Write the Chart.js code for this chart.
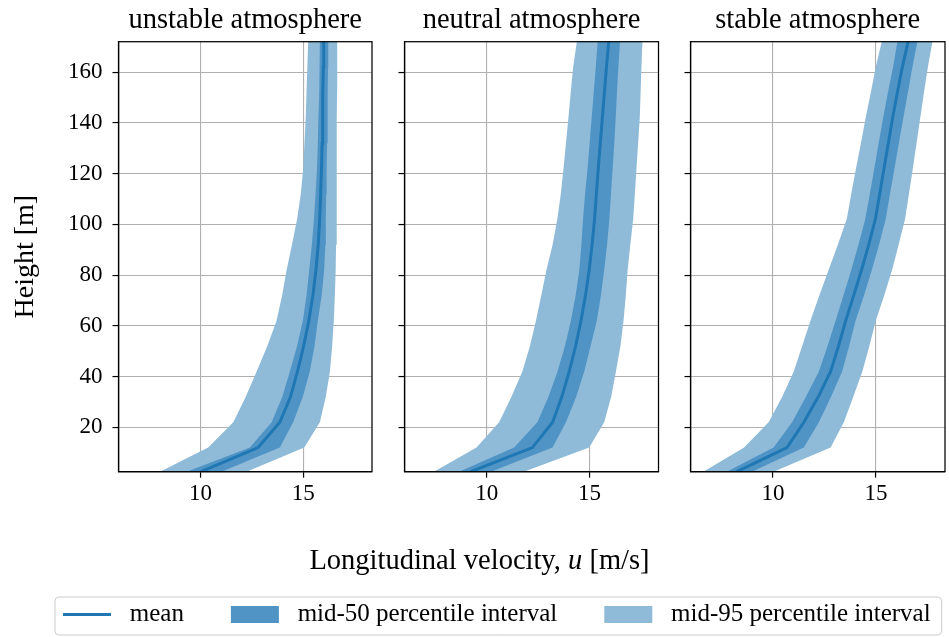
<!DOCTYPE html>
<html>
<head>
<meta charset="utf-8">
<script src="https://cdn.jsdelivr.net/npm/chart.js@4.4.1/dist/chart.umd.min.js"></script>
<style>
  body { margin: 0; background: #fff; }
  #wrap { position: relative; width: 949px; height: 637px; }
  #wrap canvas { position: absolute; left: 0; top: 0; }
</style>
</head>
<body>
<div id="wrap">
  <canvas id="c1" width="949" height="637"></canvas>
  <canvas id="c2" width="949" height="637"></canvas>
  <canvas id="c3" width="949" height="637"></canvas>
</div>
<script>
// Heights of the profile points (m)
const heights = [2.5, 12, 22, 32, 42, 52, 62, 72, 82, 92, 102, 112, 122, 132, 142, 152, 162, 172];
const titles = ["unstable atmosphere", "neutral atmosphere", "stable atmosphere"];
const xTicks = [10, 15];
const yTicks = [20, 40, 60, 80, 100, 120, 140, 160];

// unstable
const meanUnstable = [10.02, 12.8, 13.86, 14.38, 14.72, 15.02, 15.27, 15.47, 15.62, 15.73, 15.8, 15.85, 15.89, 15.92, 15.94, 15.96, 15.98, 16.0];
const p25Unstable = [9.32, 12.4, 13.46, 13.98, 14.35, 14.7, 14.98, 15.16, 15.29, 15.42, 15.52, 15.6, 15.67, 15.71, 15.74, 15.77, 15.79, 15.81];
const p75Unstable = [11.02, 13.86, 14.51, 14.98, 15.32, 15.55, 15.71, 15.9, 16.02, 16.08, 16.1, 16.12, 16.14, 16.16, 16.18, 16.2, 16.21, 16.22];
const p025Unstable = [8.02, 10.37, 11.59, 12.2, 12.73, 13.25, 13.7, 13.97, 14.19, 14.45, 14.7, 14.88, 15.0, 15.06, 15.12, 15.16, 15.2, 15.24];
const p975Unstable = [12.24, 15.05, 15.81, 16.1, 16.3, 16.41, 16.49, 16.54, 16.58, 16.6, 16.62, 16.63, 16.63, 16.64, 16.64, 16.65, 16.65, 16.66];

// neutral
const meanNeutral = [9.22, 12.22, 13.2, 13.65, 14.01, 14.32, 14.58, 14.8, 14.98, 15.12, 15.24, 15.33, 15.42, 15.52, 15.62, 15.72, 15.82, 15.93];
const p25Neutral = [8.65, 11.33, 12.46, 13.0, 13.44, 13.8, 14.09, 14.32, 14.5, 14.6, 14.68, 14.78, 14.9, 15.0, 15.1, 15.2, 15.3, 15.39];
const p75Neutral = [10.2, 13.2, 13.85, 14.35, 14.74, 15.05, 15.35, 15.55, 15.71, 15.85, 15.96, 16.04, 16.12, 16.2, 16.27, 16.33, 16.4, 16.48];
const p025Neutral = [7.43, 9.5, 10.6, 11.2, 11.73, 12.1, 12.39, 12.65, 12.9, 13.2, 13.43, 13.6, 13.73, 13.85, 13.97, 14.08, 14.2, 14.38];
const p975Neutral = [11.8, 14.98, 15.71, 16.05, 16.28, 16.5, 16.65, 16.76, 16.85, 16.98, 17.12, 17.2, 17.28, 17.36, 17.44, 17.48, 17.52, 17.57];

// stable
const meanStable = [8.25, 10.68, 11.5, 12.2, 12.8, 13.18, 13.53, 13.92, 14.3, 14.65, 14.97, 15.18, 15.39, 15.6, 15.81, 16.04, 16.28, 16.56];
const p25Stable = [7.76, 10.03, 10.93, 11.6, 12.23, 12.65, 13.04, 13.42, 13.8, 14.15, 14.48, 14.7, 14.92, 15.13, 15.35, 15.58, 15.83, 16.04];
const p75Stable = [8.98, 11.5, 12.23, 12.82, 13.36, 13.7, 14.01, 14.42, 14.8, 15.15, 15.47, 15.68, 15.9, 16.11, 16.33, 16.55, 16.77, 17.01];
const p025Stable = [6.62, 8.6, 9.79, 10.45, 11.01, 11.42, 11.82, 12.25, 12.7, 13.15, 13.58, 13.8, 14.03, 14.27, 14.5, 14.75, 14.99, 15.28];
const p975Stable = [10.03, 12.8, 13.44, 13.9, 14.34, 14.68, 14.99, 15.4, 15.78, 16.1, 16.41, 16.6, 16.79, 16.97, 17.15, 17.33, 17.52, 17.74];

const xMin = 6.0, xMax = 18.35, yMin = 2.5, yMax = 172;

const SERIF = "'Liberation Serif', 'Times New Roman', serif";
const BLUE = "#1f77b4";
const BAND50 = "rgb(80, 148, 198)";
const BAND95 = "rgb(143, 187, 217)";
const GRID = "#b0b0b0";

Chart.defaults.font.family = SERIF;
Chart.defaults.color = "#000";

// plot-area edges of the three panels
const panels = [
  { left: 118.5, right: 372 },
  { left: 404.5, right: 658.5 },
  { left: 690.5, right: 945 }
];
const plotTop = 41.7;
const plotBottom = 471.7;
const W = 949, H = 637;
// the middle chart carries the legend; its padding sets where the legend row sits
const legendPad = { left: 16, right: -40 };

function pts(values) {
  return values.map((v, i) => ({ x: v, y: heights[i] }));
}

// four-sided frame like matplotlib spines
const frame = {
  id: "frame",
  afterDraw(chart) {
    const { ctx, chartArea: a } = chart;
    ctx.save();
    ctx.strokeStyle = "#000";
    ctx.lineWidth = 1.25;
    ctx.strokeRect(a.left, a.top, a.right - a.left, a.bottom - a.top);
    ctx.restore();
  }
};

// shared x label and legend frame, drawn by the middle chart
const extras = {
  id: "extras",
  afterDraw(chart) {
    const ctx = chart.ctx;
    ctx.save();
    // legend frame
    const boxes = chart.legend.legendHitBoxes;
    if (boxes && boxes.length) {
      const first = boxes[0], last = boxes[boxes.length - 1];
      const l = first.left - 8, r = last.left + last.width + 11;
      const t = first.top - 5, b = first.top + first.height + 8;
      ctx.strokeStyle = "#cccccc";
      ctx.lineWidth = 1;
      ctx.beginPath();
      ctx.roundRect(l, t, r - l, Math.min(b, H - 1) - t, 4);
      ctx.stroke();
    }
    // x label with italic u
    const parts = [["Longitudinal velocity, ", "normal"], ["u", "italic"], [" [m/s]", "normal"]];
    const size = 28.5;
    let total = 0;
    const widths = parts.map(([txt, st]) => {
      ctx.font = st + " " + size + "px " + SERIF;
      const w = ctx.measureText(txt).width;
      total += w;
      return w;
    });
    let x = W / 2 + 5 - total / 2;
    const y = chart.chartArea.bottom + 90;
    ctx.fillStyle = "#000";
    ctx.textBaseline = "middle";
    ctx.textAlign = "left";
    parts.forEach(([txt, st], k) => {
      ctx.font = st + " " + size + "px " + SERIF;
      ctx.fillText(txt, x, y);
      x += widths[k];
    });
    ctx.restore();
  }
};

function makeChart(id, i, s) {
  const first = i === 0;
  const middle = i === 1;
  const padLeft = middle ? legendPad.left : 0;
  const padRight = middle ? legendPad.right : W - panels[i].right;
  const gridOpts = { color: GRID, lineWidth: 1.1, tickColor: "#000", tickWidth: 1.2, tickLength: 6 };
  const borderOpts = { color: "#000", width: 1.25 };
  const hidden = { borderWidth: 0, borderColor: "rgba(0,0,0,0)", pointRadius: 0, fill: false, label: "" };

  const scales = {
    x: {
      type: "linear", min: xMin, max: xMax, z: 1,
      afterFit: (sc) => {
        sc.height = middle ? H - plotBottom - sc.chart.legend.height : H - plotBottom;
      },
      afterBuildTicks: (sc) => { sc.ticks = xTicks.map((v) => ({ value: v })); },
      ticks: { font: { family: SERIF, size: 23 }, color: "#000", padding: 2, maxRotation: 0 },
      grid: gridOpts,
      border: borderOpts
    },
    y: {
      type: "linear", min: yMin, max: yMax, z: 1,
      afterFit: (sc) => { sc.width = panels[i].left - padLeft; },
      afterBuildTicks: (sc) => { sc.ticks = yTicks.map((v) => ({ value: v })); },
      title: {
        display: first, text: "Height [m]", color: "#000",
        font: { family: SERIF, size: 28 }, padding: { top: 9, bottom: 0 }
      },
      ticks: { display: first, font: { family: SERIF, size: 23 }, color: "#000", padding: 10 },
      grid: gridOpts,
      border: borderOpts
    }
  };
  if (middle) {
    // empty right-hand axis keeps the middle plot narrow while the legend spans the page
    scales.y2 = {
      type: "linear", position: "right",
      grid: { display: false }, ticks: { display: false }, border: { display: false },
      afterFit: (sc) => { sc.width = W - panels[1].right - legendPad.right; }
    };
  }

  return new Chart(document.getElementById(id), {
    type: "line",
    data: {
      datasets: [
        { label: "mean", data: pts(s.mean), borderColor: BLUE, borderWidth: 3, pointRadius: 0,
          pointStyle: "line", fill: false },
        Object.assign({ data: pts(s.p25) }, hidden),
        { label: "mid-50 percentile interval", data: pts(s.p75), borderWidth: 0, borderColor: "rgba(0,0,0,0)",
          pointRadius: 0, backgroundColor: BAND50, pointStyle: "rect", fill: "-1" },
        Object.assign({ data: pts(s.p025) }, hidden),
        { label: "mid-95 percentile interval", data: pts(s.p975), borderWidth: 0, borderColor: "rgba(0,0,0,0)",
          pointRadius: 0, backgroundColor: BAND95, pointStyle: "rect", fill: "-1" }
      ]
    },
    options: {
      responsive: false,
      animation: false,
      indexAxis: "y",
      layout: { padding: { left: padLeft, right: padRight, top: 0, bottom: 0 } },
      plugins: {
        title: {
          display: true, text: titles[i], fullSize: false, color: "#000",
          font: { family: SERIF, size: 28.5, weight: "normal" },
          padding: { top: 3, bottom: plotTop - 3 - 28.5 * 1.2 }
        },
        legend: {
          display: middle,
          position: "bottom",
          align: "start",
          labels: {
            usePointStyle: true, pointStyleWidth: 48, boxHeight: 17, padding: 47,
            color: "#000", font: { family: SERIF, size: 25 },
            generateLabels: (chart) => Chart.defaults.plugins.legend.labels.generateLabels(chart)
              .filter((item) => item.text !== "")
              .map((item) => Object.assign(item, { text: " " + item.text }))
          }
        },
        tooltip: { enabled: false }
      },
      scales: scales
    },
    plugins: middle ? [frame, extras] : [frame]
  });
}

makeChart("c1", 0, { mean: meanUnstable, p25: p25Unstable, p75: p75Unstable, p025: p025Unstable, p975: p975Unstable });
makeChart("c2", 1, { mean: meanNeutral, p25: p25Neutral, p75: p75Neutral, p025: p025Neutral, p975: p975Neutral });
makeChart("c3", 2, { mean: meanStable, p25: p25Stable, p75: p75Stable, p025: p025Stable, p975: p975Stable });
</script>
</body>
</html>
